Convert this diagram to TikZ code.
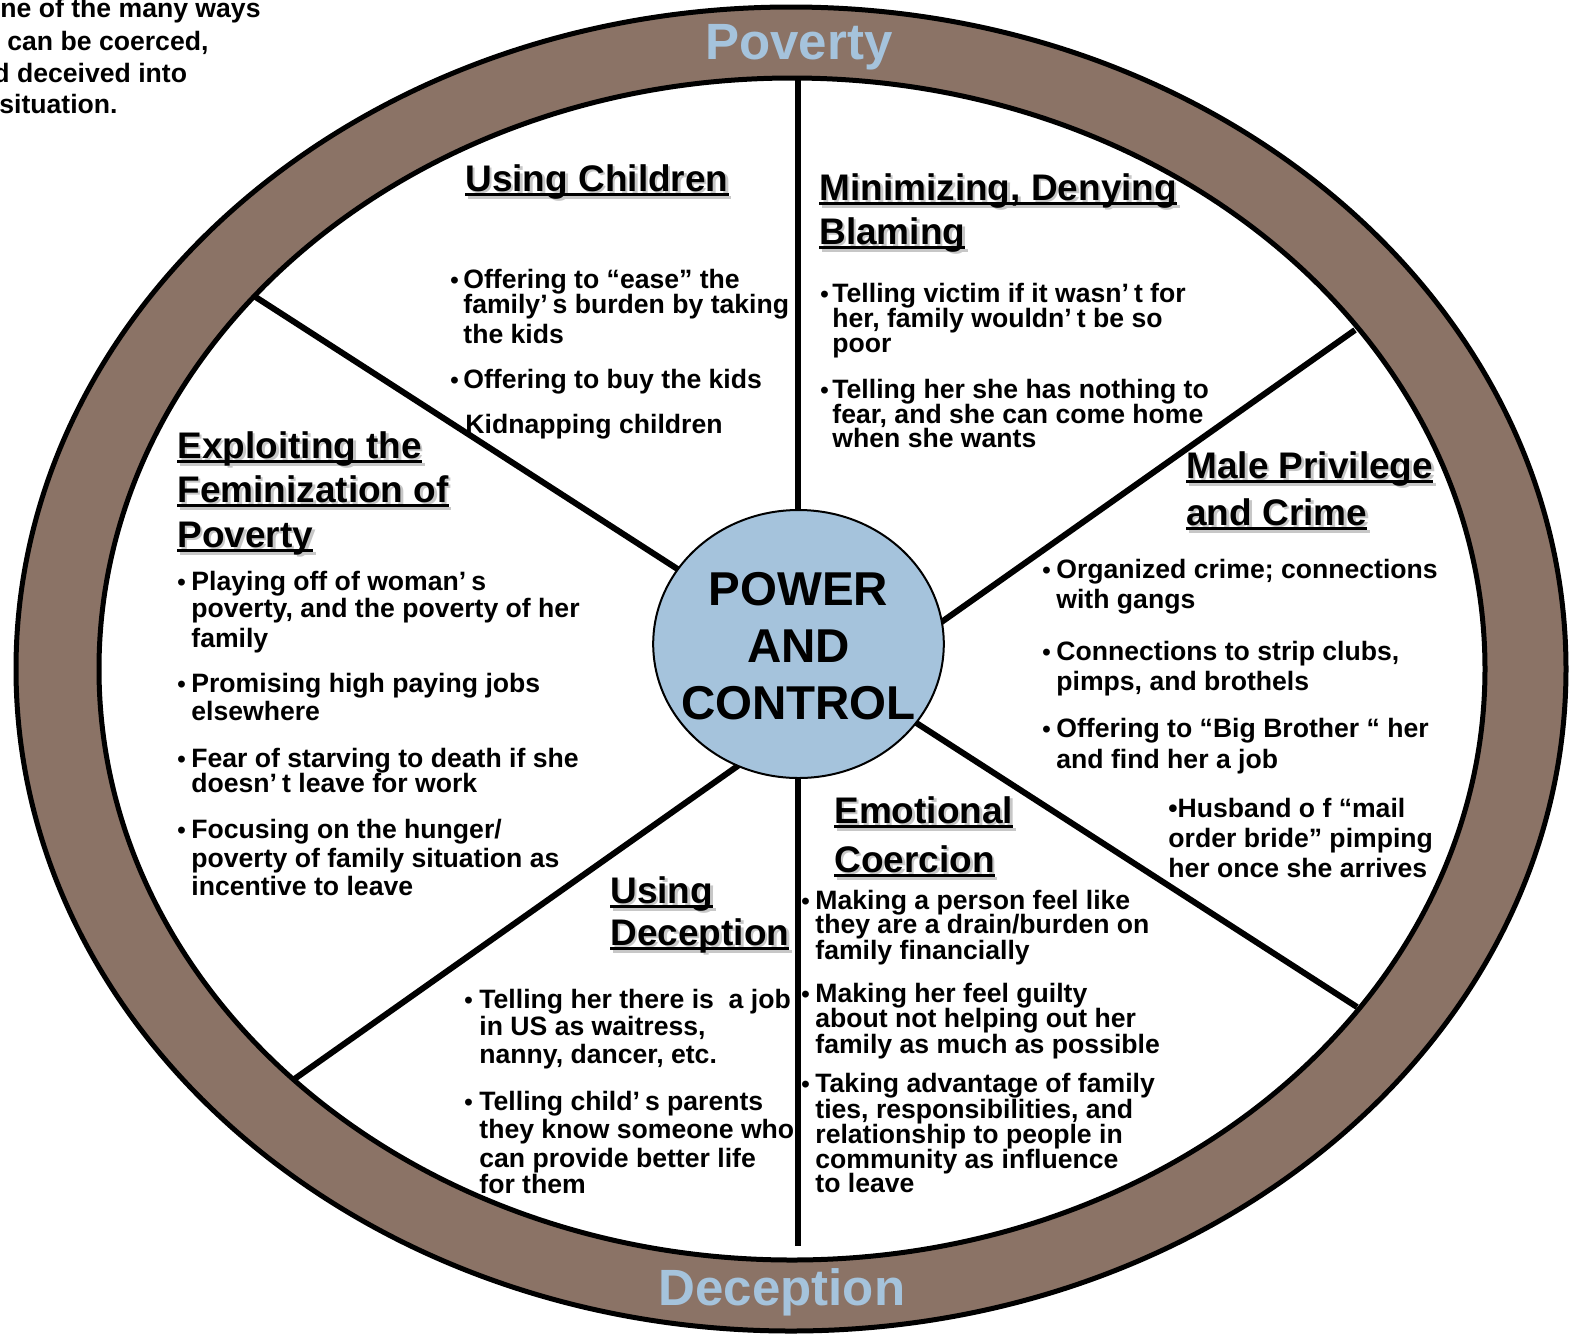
\documentclass[tikz,border=0pt]{standalone}
\usepackage{fontspec}
\setmainfont{Liberation Sans}
\usepackage{graphicx}
\usetikzlibrary{shapes.geometric}
\definecolor{ringbrown}{HTML}{8B7366}
\definecolor{lblue}{HTML}{A5C3DC}
\newcommand\ulx[1]{\setbox0\hbox{#1}\rlap{\rule[-0.14em]{\wd0}{0.075em}}\box0}
\newcommand\apo{’\kern2.5pt}
\tikzset{
 bodytxt/.style={font=\fontsize{13.3}{13.3}\selectfont\bfseries, inner sep=0pt, anchor=base west},
 bultxt/.style={font=\fontsize{12}{12}\selectfont\bfseries, inner sep=0pt, anchor=base west},
 headtxt/.style={font=\fontsize{18.5}{18.5}\selectfont\bfseries, inner sep=0pt, anchor=base west},
 headshadow/.style={headtxt, text=black!22},
 ringlbl/.style={font=\fontsize{25.5}{25.5}\selectfont\bfseries, text=lblue, anchor=base, inner sep=0pt},
 spoke/.style={line width=3pt},
 rim/.style={line width=2.5pt},
}
\newcommand\txl[4]{\node[bodytxt] (#1) at (#2,#3) {#4};}
\newcommand\bdot[3]{\node[bultxt] (#1) at (#2,#3) {•};}
\newcommand\hding[4]{\node[headshadow] (#1s) at (#2+2.5,#3+2.5) {\ulx{#4}};\node[headtxt] (#1) at (#2,#3) {\ulx{#4}};}
\begin{document}
\begin{tikzpicture}[x=0.5pt,y=-0.5pt]
\useasboundingbox (0,0) rectangle (1576,1341);
% ring
\draw[rim, fill=ringbrown] (791,669) ellipse [x radius=775, y radius=662];
\draw[rim, fill=white] (792,669) ellipse [x radius=693, y radius=591];
\node[ringlbl] (pov) at (799,59) {Poverty};
\node[ringlbl] (dec) at (782,1305) {Deception};
% spokes
\coordinate (s1a) at (254,296); \coordinate (s1b) at (1357,1007);
\coordinate (s2a) at (1355,330); \coordinate (s2b) at (293,1080);
\coordinate (s3a) at (798,78);   \coordinate (s3b) at (798,1246);
\draw[spoke] (s1a) -- (s1b);
\draw[spoke] (s2a) -- (s2b);
\draw[spoke] (s3a) -- (s3b);
% hub
\node[ellipse, draw, line width=1pt, fill=lblue, minimum width=145.3pt, minimum height=134pt, inner sep=0pt] (hub) at (798.5,644) {};
\node[font=\fontsize{23.75}{28.5}\selectfont\bfseries, align=center, inner sep=0pt] (hubtxt) at (798.5,646) {POWER\\AND\\CONTROL};
% top-left text
\txl{tla}{0}{17}{ne of the many ways}
\txl{tlb}{7}{50}{can be coerced,}
\txl{tlc}{-7}{82}{d deceived into}
\txl{tld}{-1}{113}{situation.}
% Using Children
\hding{hUC}{465}{191}{Using Children}
\bdot{ucb1}{450}{288}
\txl{uc1}{463}{288}{Offering to “ease” the}
\txl{uc2}{463}{313}{family\apo s burden by taking}
\txl{uc3}{463}{343}{the kids}
\bdot{ucb2}{450}{388}
\txl{uc4}{463}{388}{Offering to buy the kids}
\txl{uc5}{465}{433}{Kidnapping children}
% Minimizing
\hding{hMD}{819}{200}{Minimizing, Denying}
\hding{hMDb}{819}{244}{Blaming}
\bdot{mdb1}{820}{302}
\txl{md1}{832}{302}{Telling victim if it wasn\apo t for}
\txl{md2}{832}{327}{her, family wouldn\apo t be so}
\txl{md3}{832}{352}{poor}
\bdot{mdb2}{820}{398}
\txl{md4}{832}{398}{Telling her she has nothing to}
\txl{md5}{832}{423}{fear, and she can come home}
\txl{md6}{832}{447}{when she wants}
% Male Privilege
\hding{hMP}{1186}{478}{Male Privilege}
\hding{hMPb}{1186}{525}{and Crime}
\bdot{mpb1}{1042}{578}
\txl{mp1}{1056}{578}{Organized crime; connections}
\txl{mp2}{1056}{608}{with gangs}
\bdot{mpb2}{1042}{660}
\txl{mp3}{1056}{660}{Connections to strip clubs,}
\txl{mp4}{1056}{690}{pimps, and brothels}
\bdot{mpb3}{1042}{737}
\txl{mp5}{1056}{737}{Offering to “Big Brother “ her}
\txl{mp6}{1056}{768}{and find her a job}
\txl{mp7}{1168}{817}{•Husband o f “mail}
\txl{mp8}{1168}{847}{order bride” pimping}
\txl{mp9}{1168}{877}{her once she arrives}
% Exploiting
\hding{hEF}{177}{458}{Exploiting the}
\hding{hEFb}{177}{502}{Feminization of}
\hding{hEFc}{177}{547}{Poverty}
\bdot{efb1}{177}{590}
\txl{ef1}{191}{590}{Playing off of woman\apo s}
\txl{ef2}{191}{617}{poverty, and the poverty of her}
\txl{ef3}{191}{647}{family}
\bdot{efb2}{177}{692}
\txl{ef4}{191}{692}{Promising high paying jobs}
\txl{ef5}{191}{720}{elsewhere}
\bdot{efb3}{177}{767}
\txl{ef6}{191}{767}{Fear of starving to death if she}
\txl{ef7}{191}{792}{doesn\apo t leave for work}
\bdot{efb4}{177}{838}
\txl{ef8}{191}{838}{Focusing on the hunger/}
\txl{ef9}{191}{867}{poverty of family situation as}
\txl{ef10}{191}{895}{incentive to leave}
% Using Deception
\hding{hUD}{610}{903}{Using}
\hding{hUDb}{610}{945}{Deception}
\bdot{udb1}{464}{1008}
\txl{ud1}{479}{1008}{Telling her there is~ a job}
\txl{ud2}{479}{1035}{in US as waitress,}
\txl{ud3}{479}{1063}{nanny, dancer, etc.}
\bdot{udb2}{464}{1110}
\txl{ud4}{479}{1110}{Telling child\apo s parents}
\txl{ud5}{479}{1138}{they know someone who}
\txl{ud6}{479}{1167}{can provide better life}
\txl{ud7}{479}{1193}{for them}
% Emotional Coercion
\hding{hEC}{834}{823}{Emotional}
\hding{hECb}{834}{872}{Coercion}
\bdot{ecb1}{801}{909}
\txl{ec1}{815}{909}{Making a person feel like}
\txl{ec2}{815}{933}{they are a drain/burden on}
\txl{ec3}{815}{959}{family financially}
\bdot{ecb2}{801}{1002}
\txl{ec4}{815}{1002}{Making her feel guilty}
\txl{ec5}{815}{1027}{about not helping out her}
\txl{ec6}{815}{1053}{family as much as possible}
\bdot{ecb3}{801}{1092}
\txl{ec7}{815}{1092}{Taking advantage of family}
\txl{ec8}{815}{1118}{ties, responsibilities, and}
\txl{ec9}{815}{1143}{relationship to people in}
\txl{ec10}{815}{1168}{community as influence}
\txl{ec11}{815}{1192}{to leave}
\end{tikzpicture}
\end{document}
